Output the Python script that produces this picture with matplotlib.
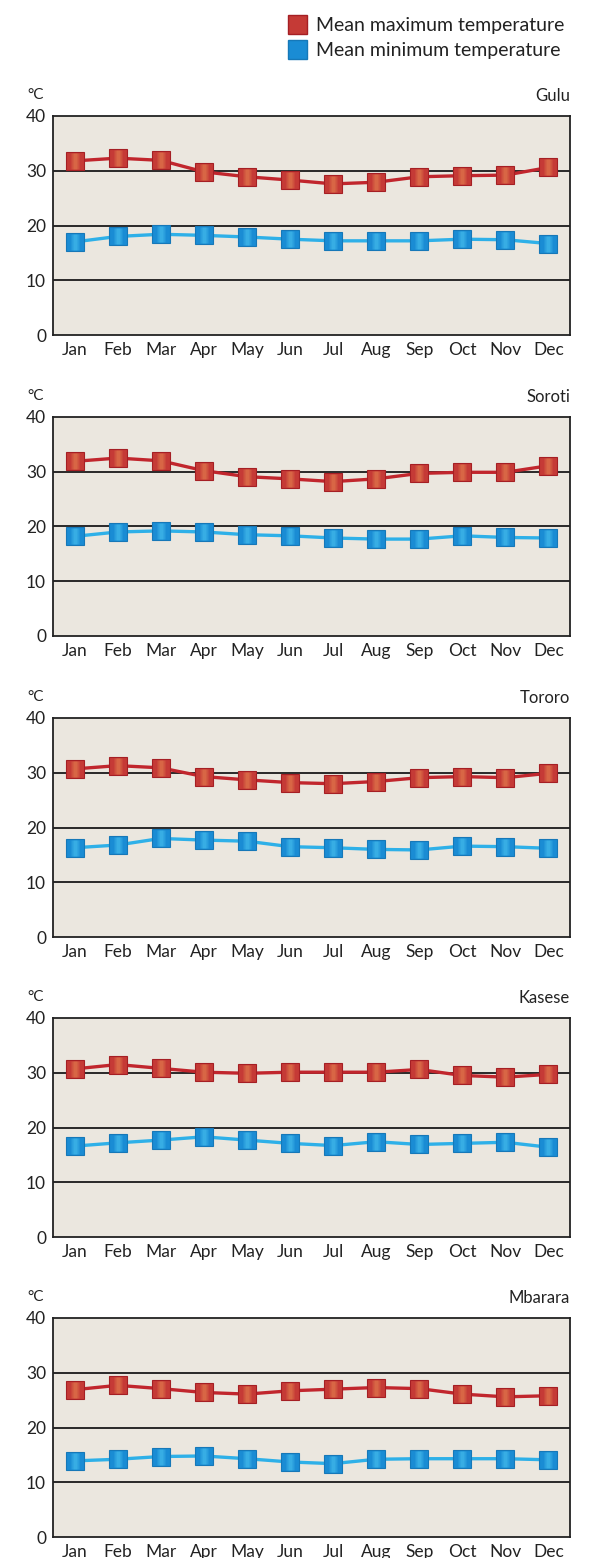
import numpy as np
import matplotlib
matplotlib.use("Agg")
import matplotlib.pyplot as plt
from matplotlib.patches import Patch

months = ["Jan", "Feb", "Mar", "Apr", "May", "Jun", "Jul", "Aug", "Sep", "Oct", "Nov", "Dec"]
stations = ["Gulu", "Soroti", "Tororo", "Kasese", "Mbarara"]

gulu_max = [31.8, 32.3, 31.9, 29.8, 28.9, 28.3, 27.6, 27.9, 28.9, 29.1, 29.2, 30.6]
gulu_min = [17.0, 18.0, 18.4, 18.2, 17.9, 17.5, 17.2, 17.2, 17.2, 17.5, 17.4, 16.7]
soroti_max = [31.9, 32.5, 32.0, 30.2, 29.1, 28.7, 28.2, 28.7, 29.7, 29.9, 29.9, 31.1]
soroti_min = [18.2, 19.0, 19.2, 19.0, 18.5, 18.3, 17.9, 17.7, 17.7, 18.3, 18.0, 17.9]
tororo_max = [30.7, 31.3, 30.9, 29.3, 28.7, 28.2, 28.0, 28.4, 29.1, 29.3, 29.1, 29.9]
tororo_min = [16.3, 16.8, 18.0, 17.7, 17.5, 16.5, 16.3, 16.0, 15.9, 16.6, 16.5, 16.2]
kasese_max = [30.7, 31.5, 30.8, 30.1, 29.9, 30.1, 30.1, 30.1, 30.6, 29.5, 29.2, 29.7]
kasese_min = [16.6, 17.2, 17.7, 18.3, 17.7, 17.1, 16.7, 17.4, 16.9, 17.1, 17.3, 16.4]
mbarara_max = [26.9, 27.7, 27.1, 26.4, 26.1, 26.7, 27.0, 27.3, 27.1, 26.1, 25.6, 25.8]
mbarara_min = [13.9, 14.2, 14.7, 14.8, 14.3, 13.7, 13.4, 14.2, 14.3, 14.3, 14.3, 14.1]

max_series = [gulu_max, soroti_max, tororo_max, kasese_max, mbarara_max]
min_series = [gulu_min, soroti_min, tororo_min, kasese_min, mbarara_min]
yticks = [0, 10, 20, 30, 40]

plt.rcParams['font.family'] = ['Lato', 'DejaVu Sans']

W, H = 594, 1558
fig = plt.figure(figsize=(W / 100, H / 100), dpi=100)

RED_LINE, RED_FACE, RED_EDGE, RED_HI = "#c1262d", "#c53a36", "#a51f24", "#e4804f"
BLUE_LINE, BLUE_FACE, BLUE_EDGE, BLUE_HI = "#2eb0e8", "#1a8cd4", "#1678b8", "#48c0ee"
BG = "#ebe7df"
wide = [(-0.5, -1), (0.5, -1), (0.5, 1), (-0.5, 1)]
narrow = [(-0.22, -1), (0.22, -1), (0.22, 1), (-0.22, 1)]

tops = [116, 417, 718, 1018, 1318]
left, width, height = 53, 517, 219

for name, top, tmax, tmin in zip(stations, tops, max_series, min_series):
    ax = fig.add_axes([left / W, 1 - (top + height) / H, width / W, height / H])
    ax.set_facecolor(BG)
    x = np.arange(len(months))
    for vals, lc, fc, ec, hi in [(tmax, RED_LINE, RED_FACE, RED_EDGE, RED_HI),
                                 (tmin, BLUE_LINE, BLUE_FACE, BLUE_EDGE, BLUE_HI)]:
        ax.plot(x, vals, color=lc, lw=2.4, zorder=3)
        ax.plot(x, vals, ls="none", marker="s", ms=12.5, mfc=fc, mec=ec, mew=0.8, zorder=4)
        ax.plot(x, vals, ls="none", marker=wide, ms=11.5, mfc=hi, mec="none", alpha=0.35, zorder=5)
        ax.plot(x, vals, ls="none", marker=narrow, ms=11.5, mfc=hi, mec="none", alpha=0.45, zorder=6)
    ax.set_xlim(-0.5, 11.5)
    ax.set_ylim(0, 40)
    ax.set_yticks(yticks)
    ax.set_xticks(x)
    ax.set_xticklabels(months)
    ax.tick_params(length=0, labelsize=12.5, colors="#222222", pad=5)
    for yy in [10, 20, 30]:
        ax.axhline(yy, color="#1a1a1a", lw=1.3, zorder=2)
    for sp in ax.spines.values():
        sp.set_color("#222222")
        sp.set_linewidth(1.3)
    fig.text(36 / W, 1 - (top - 21) / H, "°C", ha="center", va="center", fontsize=11, color="#222222")
    fig.text((left + width) / W, 1 - (top - 20) / H, name, ha="right", va="center", fontsize=12, color="#222222")

handles = [Patch(facecolor=RED_FACE, edgecolor=RED_EDGE, label="Mean maximum temperature"),
           Patch(facecolor=BLUE_FACE, edgecolor=BLUE_EDGE, label="Mean minimum temperature")]
fig.legend(handles=handles, loc="upper right", bbox_to_anchor=(582 / W, 1 + 2 / H), frameon=False,
           fontsize=14, handlelength=1.0, handleheight=1.1, handletextpad=0.45, labelspacing=0.3,
           labelcolor="#222222")

fig.savefig("out.png", dpi=100, facecolor="white")
